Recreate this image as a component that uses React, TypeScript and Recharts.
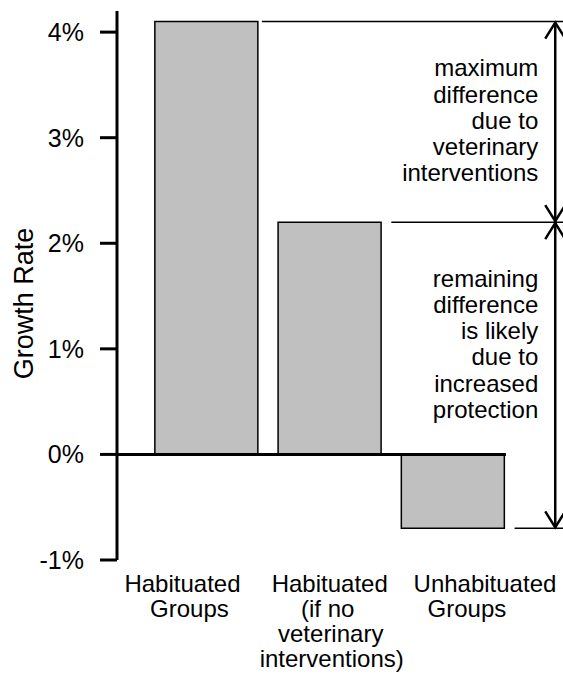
import React from "react";
import {
  BarChart,
  Bar,
  XAxis,
  YAxis,
  ReferenceLine,
} from "recharts";

const categories = [
  "Habituated Groups",
  "Habituated (if no veterinary interventions)",
  "Unhabituated Groups",
];
const categoryLabelLines = [
  ["Habituated", "Groups"],
  ["Habituated", "(if no", "veterinary", "interventions)"],
  ["Unhabituated", "Groups"],
];
const growthRates = [4.1, 2.2, -0.7];
const yTicks = [-1, 0, 1, 2, 3, 4];

const upperNote = ["maximum", "difference", "due to", "veterinary", "interventions"];
const lowerNote = ["remaining", "difference", "is likely", "due to", "increased", "protection"];

// x positions in category-index units (bars sit at 0, 1, 2)
const xDomain = [-0.726, 2.893];
const leaderStarts = [0.45, 1.5, 2.5];
const arrowX = 2.83;
const zeroLineEnd = 2.43;

// hand-placed label nudges (px) seen in the original
const labelLineShift = [
  [-24, -17],
  [0, -2, 1, 2],
  [32, 14],
];

const FONT = "'Liberation Sans', Arial, sans-serif";

const data = categories.map((name, i) => ({ idx: i, name, rate: growthRates[i] }));

function CategoryTick(props: any) {
  const { x, y, payload } = props;
  const idx = Math.round(payload.value);
  const lines = categoryLabelLines[idx] || [];
  const shifts = labelLineShift[idx] || [];
  return (
    <text y={y + 32} textAnchor="middle" fill="#000" fontSize={24} fontFamily={FONT}>
      {lines.map((l, i) => (
        <tspan key={i} x={x + (shifts[i] || 0)} dy={i === 0 ? 0 : 25}>
          {l}
        </tspan>
      ))}
    </text>
  );
}

const arrowShape = (lines: string[], shift: number) => (props: any) => {
  const { x1, y1, y2 } = props;
  const top = Math.min(y1, y2);
  const bottom = Math.max(y1, y2);
  const center = (top + bottom) / 2 + shift;
  const lh = 26.2;
  const first = center - ((lines.length - 1) * lh) / 2;
  return (
    <g>
      <line x1={x1} y1={top} x2={x1} y2={bottom} stroke="#000" strokeWidth={2.5} />
      <polyline
        points={`${x1 - 10},${top + 17} ${x1},${top + 1} ${x1 + 10},${top + 17}`}
        fill="none"
        stroke="#000"
        strokeWidth={2.5}
      />
      <polyline
        points={`${x1 - 10},${bottom - 17} ${x1},${bottom - 1} ${x1 + 10},${bottom - 17}`}
        fill="none"
        stroke="#000"
        strokeWidth={2.5}
      />
      <text textAnchor="end" fill="#000" fontSize={24} fontFamily={FONT}>
        {lines.map((l, i) => (
          <tspan key={i} x={x1 - 17} y={first + i * lh}>
            {l}
          </tspan>
        ))}
      </text>
    </g>
  );
};

function YLabel(props: any) {
  const vb = props.viewBox || { x: 0, y: 11, width: 117, height: 549 };
  const cx = vb.x + 33;
  const cy = vb.y + vb.height / 2 + 18;
  return (
    <text
      x={cx}
      y={cy}
      textAnchor="middle"
      fill="#000"
      fontSize={27}
      fontFamily={FONT}
      transform={`rotate(-90, ${cx}, ${cy})`}
    >
      Growth Rate
    </text>
  );
}

export default function App() {
  return (
    <div style={{ position: "absolute", left: 0, top: 0, background: "#fff", fontFamily: FONT }}>
      <BarChart
        width={563}
        height={676}
        data={data}
        margin={{ top: 11, right: 0, bottom: 0, left: 0 }}
      >
        <XAxis
          dataKey="idx"
          type="number"
          domain={xDomain}
          allowDataOverflow
          ticks={[0, 1, 2]}
          axisLine={false}
          tickLine={false}
          tickSize={0}
          tickMargin={0}
          height={116}
          interval={0}
          tick={<CategoryTick />}
        />
        <YAxis
          domain={[-1, 4.2]}
          ticks={yTicks}
          width={117}
          allowDataOverflow
          axisLine={{ stroke: "#000", strokeWidth: 3 }}
          tickLine={{ stroke: "#000", strokeWidth: 3 }}
          tickSize={17}
          tickMargin={16}
          tick={{ fill: "#000", fontSize: 25, fontFamily: FONT }}
          tickFormatter={(v) => `${v}%`}
          label={<YLabel />}
        />
        <Bar
          dataKey="rate"
          fill="#c0c0c0"
          stroke="#000"
          strokeWidth={1.5}
          barSize={103}
          isAnimationActive={false}
        />
        <ReferenceLine
          ifOverflow="visible"
          segment={[
            { x: xDomain[0], y: 0 },
            { x: zeroLineEnd, y: 0 },
          ]}
          stroke="#000"
          strokeWidth={3}
        />
        {growthRates.map((v, i) => (
          <ReferenceLine
            key={i}
            ifOverflow="visible"
            segment={[
              { x: leaderStarts[i], y: v },
              { x: xDomain[1], y: v },
            ]}
            stroke="#000"
            strokeWidth={1.5}
          />
        ))}
        <ReferenceLine
          ifOverflow="visible"
          segment={[
            { x: arrowX, y: growthRates[0] },
            { x: arrowX, y: growthRates[1] },
          ]}
          shape={arrowShape(upperNote, 7)}
        />
        <ReferenceLine
          ifOverflow="visible"
          segment={[
            { x: arrowX, y: growthRates[1] },
            { x: arrowX, y: growthRates[2] },
          ]}
          shape={arrowShape(lowerNote, -23)}
        />
      </BarChart>
    </div>
  );
}
